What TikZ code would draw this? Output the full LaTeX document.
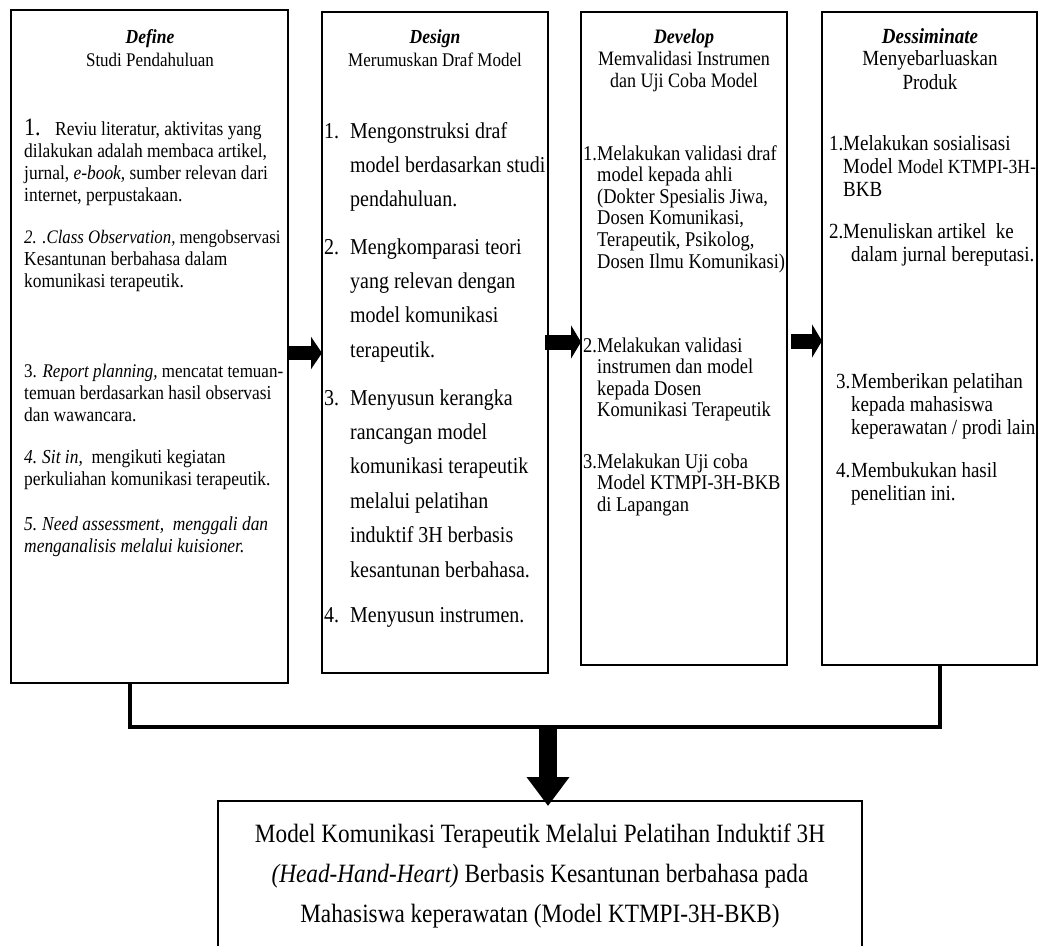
\documentclass[tikz,border=0pt]{standalone}
\usepackage{fontspec}
\setmainfont{Liberation Serif}[FakeStretch=0.88]
\usetikzlibrary{arrows.meta}

% font size helper
\newcommand\fs[2]{\fontsize{#1}{#2}\selectfont}
% a block of lines with a fixed baseline distance; its baseline is the first line
\newcommand\blines[2]{\vtop{\baselineskip=#1\relax\lineskiplimit=-100pt\relax\lineskip=0pt\relax #2}}
% one plain line
\newcommand\txl[1]{\hbox{#1}}
% numbered line: number in a box of given width, then the text
\newcommand\hng[3]{\hbox{\hbox to #1{#2\hss}#3}}
% continuation line with a left indent
\newcommand\ind[2]{\hbox{\hskip#1\relax #2}}
% centred lines
\newcommand\clines[2]{\vtop{\baselineskip=#1\relax\lineskiplimit=-100pt\relax\lineskip=0pt\relax\halign{\hfil##\hfil\cr #2}}}

\begin{document}
\begin{tikzpicture}[x=1pt,y=-1pt,
  box/.style={draw, line width=1.1pt, inner sep=0pt, outer sep=0pt, anchor=north west},
  txt/.style={inner sep=0pt, anchor=base west},
  hdr/.style={inner sep=0pt, anchor=base},
  merge/.style={line width=3.5pt, line join=miter}]
\useasboundingbox (0,0) rectangle (1040,945);

% ---- stage boxes ----
\node[box, minimum width=277pt, minimum height=673pt] (def) at (11,10) {};
\node[box, minimum width=226pt, minimum height=661pt] (des) at (322,12) {};
\node[box, minimum width=206pt, minimum height=653pt] (dev) at (581,12) {};
\node[box, minimum width=215pt, minimum height=653pt] (dis) at (822,12) {};
% ---- result box ----
\node[box, minimum width=644pt, minimum height=147pt] (res) at (218,801) {};

% ---- Define ----
\node[hdr] (defT) at (150,43) {\fs{19.9}{22}\textbf{\textit{Define}}};
\node[hdr] (defS) at (150,66) {\fs{19.3}{22}Studi Pendahuluan};
\node[txt] (d1) at (24,135) {\fs{19.8}{22}\blines{22pt}{%
  \hng{31pt}{\fs{25}{25}1.}{Reviu literatur, aktivitas yang}%
  \txl{dilakukan adalah membaca artikel,}%
  \txl{jurnal, \textit{e-book,} sumber relevan dari}%
  \txl{internet, perpustakaan.}}};
\node[txt] (d2) at (24,243) {\fs{19.8}{22}\blines{22pt}{%
  \txl{\fs{19.1}{22}\textit{2. .Class Observation,} mengobservasi}%
  \txl{Kesantunan berbahasa dalam}%
  \txl{komunikasi terapeutik.}}};
\node[txt] (d3) at (24,377) {\fs{19.8}{22}\blines{22pt}{%
  \txl{\fs{19.3}{22}3. \textit{Report planning,} mencatat temuan-}%
  \txl{temuan berdasarkan hasil observasi}%
  \txl{dan wawancara.}}};
\node[txt] (d4) at (24,463) {\fs{19.8}{22}\blines{22pt}{%
  \hng{18pt}{\textit{4.}}{\textit{Sit in,}\ \ mengikuti kegiatan}%
  \txl{perkuliahan komunikasi terapeutik.}}};
\node[txt] (d5) at (24,530) {\fs{19.8}{22}\itshape\blines{22pt}{%
  \hng{18pt}{5.}{Need assessment,\ \ menggali dan}%
  \txl{menganalisis melalui kuisioner.}}};

% ---- Design ----
\node[hdr] (desT) at (435,43) {\fs{19.9}{22}\textbf{\textit{Design}}};
\node[hdr] (desS) at (435,66) {\fs{19.3}{22}Merumuskan Draf Model};
\node[txt] (e1) at (324,138) {\fs{22.7}{34}\blines{34.4pt}{%
  \hng{26pt}{1.}{Mengonstruksi draf}%
  \ind{26pt}{model berdasarkan studi}%
  \ind{26pt}{pendahuluan.}}};
\node[txt] (e2) at (324,254) {\fs{22.7}{34}\blines{34.4pt}{%
  \hng{26pt}{2.}{Mengkomparasi teori}%
  \ind{26pt}{yang relevan dengan}%
  \ind{26pt}{model komunikasi}%
  \ind{26pt}{terapeutik.}}};
\node[txt] (e3) at (324,405) {\fs{22.7}{34}\blines{34.4pt}{%
  \hng{26pt}{3.}{Menyusun kerangka}%
  \ind{26pt}{rancangan model}%
  \ind{26pt}{komunikasi terapeutik}%
  \ind{26pt}{melalui pelatihan}%
  \ind{26pt}{induktif 3H berbasis}%
  \ind{26pt}{kesantunan berbahasa.}}};
\node[txt] (e4) at (324,622) {\fs{22.7}{34}\hng{26pt}{4.}{Menyusun instrumen.}};

% ---- Develop ----
\node[hdr] (devT) at (684,43) {\fs{20.5}{22}\textbf{\textit{Develop}}};
\node[hdr] (devS1) at (684,65) {\fs{20.5}{22}Memvalidasi Instrumen};
\node[hdr] (devS2) at (684,87) {\fs{20.5}{22}dan Uji Coba Model};
\node[txt] (v1) at (583,160) {\fs{21}{21.6}\blines{21.6pt}{%
  \hng{14pt}{1.}{Melakukan validasi draf}%
  \ind{14pt}{model kepada ahli}%
  \ind{14pt}{(Dokter Spesialis Jiwa,}%
  \ind{14pt}{Dosen Komunikasi,}%
  \ind{14pt}{Terapeutik, Psikolog,}%
  \ind{14pt}{Dosen Ilmu Komunikasi)}}};
\node[txt] (v2) at (583,352) {\fs{21}{21.6}\blines{21.6pt}{%
  \hng{14pt}{2.}{Melakukan validasi}%
  \ind{14pt}{instrumen dan model}%
  \ind{14pt}{kepada Dosen}%
  \ind{14pt}{Komunikasi Terapeutik}}};
\node[txt] (v3) at (583,468) {\fs{21}{21.6}\blines{21.6pt}{%
  \hng{14pt}{3.}{Melakukan Uji coba}%
  \ind{14pt}{Model KTMPI-3H-BKB}%
  \ind{14pt}{di Lapangan}}};

% ---- Dessiminate ----
\node[hdr] (disT) at (930,43) {\fs{21.6}{22}\textbf{\textit{Dessiminate}}};
\node[hdr] (disS1) at (930,65) {\fs{21.6}{22}Menyebarluaskan};
\node[hdr] (disS2) at (930,89) {\fs{21.6}{22}Produk};
\node[txt] (w1) at (829,150) {\fs{21.6}{23}\blines{23pt}{%
  \hng{14pt}{1.}{Melakukan sosialisasi}%
  \ind{14pt}{Model {\fs{20}{23}Model KTMPI-3H-}}%
  \ind{14pt}{BKB}}};
\node[txt] (w2) at (829,238) {\fs{21.6}{23}\blines{23pt}{%
  \hng{14pt}{2.}{Menuliskan artikel\ \ ke}%
  \ind{22pt}{dalam jurnal bereputasi.}}};
\node[txt] (w3) at (836,388) {\fs{21.6}{23}\blines{23pt}{%
  \hng{15pt}{3.}{Memberikan pelatihan}%
  \ind{15pt}{kepada mahasiswa}%
  \ind{15pt}{keperawatan / prodi lain}}};
\node[txt] (w4) at (836,477) {\fs{21.6}{23}\blines{23pt}{%
  \hng{15pt}{4.}{Membukukan hasil}%
  \ind{15pt}{penelitian ini.}}};

% ---- result text ----
\node[hdr] (resT) at (540,842) {\fs{26.4}{40}\clines{40pt}{%
  Model Komunikasi Terapeutik Melalui Pelatihan Induktif 3H\cr
  \textit{(Head-Hand-Heart)} Berbasis Kesantunan berbahasa pada\cr
  Mahasiswa keperawatan (Model KTMPI-3H-BKB)\cr}};

% ---- block arrows between stages ----
\draw[line width=14pt, -{Triangle[width=32pt,length=11pt]}]
  (def.east |- 0,353) -- (des.west |- 0,353);
\draw[line width=15pt, -{Triangle[width=33pt,length=10pt]}]
  ([xshift=-3pt]des.east |- 0,342) -- (dev.west |- 0,342);
\draw[line width=15pt, -{Triangle[width=33pt,length=10pt]}]
  ([xshift=4pt]dev.east |- 0,341) -- (dis.west |- 0,341);

% ---- merging connector and final arrow ----
\coordinate (jl) at (130,727);
\coordinate (jr) at (940,727);
\coordinate (jm) at (548,727);
\draw[merge] (def.south -| jl) -- (jl) -- (jr) -- (dis.south -| jr);
\draw[line width=18pt, -{Triangle[width=41pt,length=29pt]}]
  (jm) -- ([yshift=-5pt]res.north -| jm);
\end{tikzpicture}
\end{document}
